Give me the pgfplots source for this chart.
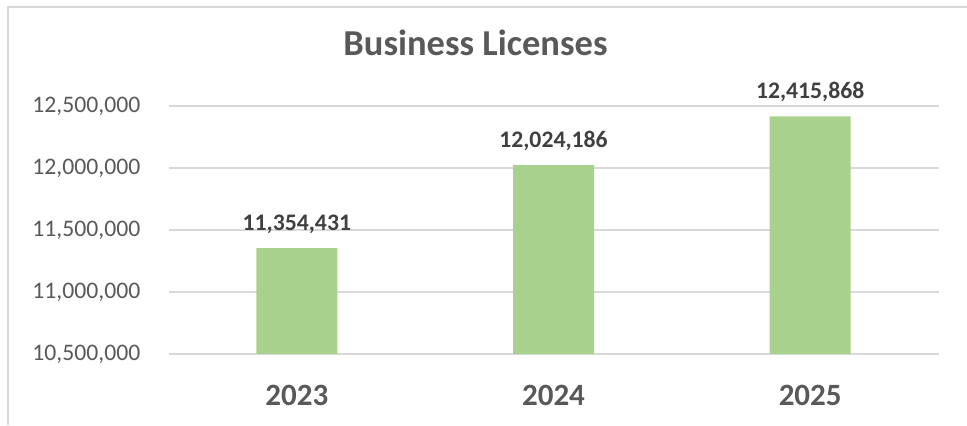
\documentclass[border=0pt]{standalone}
\usepackage{pgfplots}
\pgfplotsset{compat=1.18}
\usepackage{fontspec}
\setmainfont{Carlito}
\definecolor{barg}{HTML}{A9D18E}
\definecolor{gridc}{HTML}{D9D9D9}
\definecolor{txt}{HTML}{595959}
\definecolor{lab}{HTML}{404040}
\begin{document}
\begin{tikzpicture}[x=1bp,y=1bp]
\path[use as bounding box] (0,0) rectangle (967,425);
\draw[gridc, line width=2bp] (8,0) -- (8,418) -- (967,418);
\node[anchor=base, inner sep=0pt, text=txt, font=\fontsize{36.5bp}{40bp}\selectfont\bfseries] at (475.5,370) {Business Licenses};
\begin{axis}[
  at={(168.5bp,71bp)}, anchor=south west,
  scale only axis, width=770bp, height=248bp,
  xmin=-0.5, xmax=2.5,
  ymin=10500000, ymax=12500000,
  scaled y ticks=false,
  ytick={10500000,11000000,11500000,12000000,12500000},
  yticklabels={10{,}500{,}000,11{,}000{,}000,11{,}500{,}000,12{,}000{,}000,12{,}500{,}000},
  xtick={0,1,2}, xticklabels={2023,2024,2025},
  axis line style={draw=none},
  major tick length=0pt,
  ymajorgrids, grid style={gridc, line width=1.3bp},
  yticklabel style={anchor=east, inner sep=0pt, xshift=-28bp, text=txt, font=\fontsize{23.7bp}{28bp}\selectfont},
  xticklabel style={anchor=base, inner sep=0pt, yshift=-51bp, text=txt, font=\fontsize{31bp}{36bp}\selectfont\bfseries},
  ybar, bar width=81bp,
  nodes near coords,
  point meta=explicit symbolic,
  nodes near coords style={anchor=base, inner sep=0pt, yshift=18bp, text=lab, font=\fontsize{23.7bp}{28bp}\selectfont\bfseries},
]
\addplot[fill=barg, draw=none] table[x=x, y=y, meta=lab] {
x y lab
0 11354431 11,354,431
1 12024186 12,024,186
2 12415868 12,415,868
};
\end{axis}
\end{tikzpicture}
\end{document}
